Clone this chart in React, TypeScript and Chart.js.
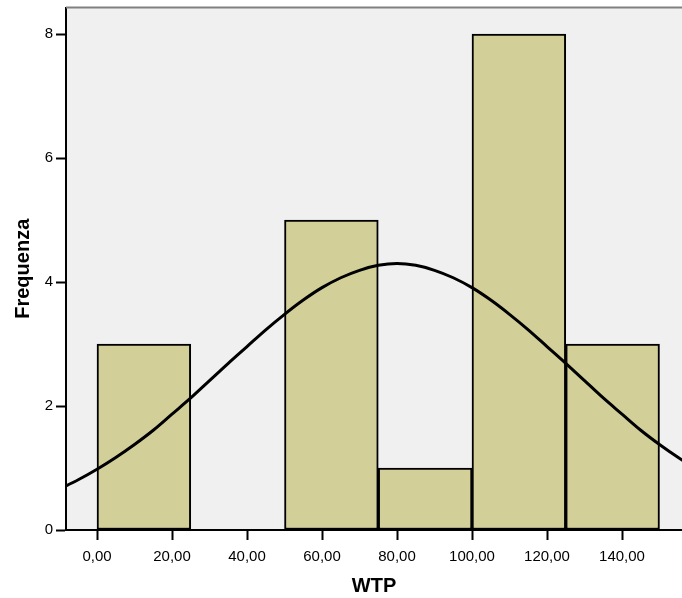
import React, { useEffect, useRef } from "react";
import { Chart, registerables } from "chart.js";

Chart.register(...registerables);

// Histogram bins (WTP), bin width 25
const binCenters = [12.5, 37.5, 62.5, 87.5, 112.5, 137.5];
const binCounts = [3, 0, 5, 1, 8, 3];

// Fitted normal curve
const curveX = [-10, -5, 0, 5, 10, 15, 20, 25, 30, 35, 40, 45, 50, 55, 60, 65, 70, 75, 80, 85, 90, 95, 100, 105, 110, 115, 120, 125, 130, 135, 140, 145, 150, 155, 160, 165];
const curveY = [0.66, 0.81, 0.98, 1.17, 1.38, 1.61, 1.87, 2.13, 2.41, 2.69, 2.96, 3.23, 3.48, 3.71, 3.91, 4.07, 4.19, 4.27, 4.3, 4.27, 4.19, 4.07, 3.91, 3.71, 3.48, 3.23, 2.96, 2.69, 2.41, 2.13, 1.87, 1.61, 1.38, 1.17, 0.98, 0.81];

const xTickValues = [0, 20, 40, 60, 80, 100, 120, 140];
const xTickLabels = ["0,00", "20,00", "40,00", "60,00", "80,00", "100,00", "120,00", "140,00"];
const yTickValues = [0, 2, 4, 6, 8];
const yTickLabels = ["0", "2", "4", "6", "8"];

const xTitle = "WTP";
const yTitle = "Frequenza";

const X_MIN = -8.27;
const X_MAX = 156;

const FONT = "'Liberation Sans', Arial, Helvetica, sans-serif";

const bgPlugin = {
  id: "plotBg",
  beforeDraw(chart: any) {
    const { ctx, chartArea: a } = chart;
    ctx.save();
    ctx.fillStyle = "#f0f0f0";
    ctx.fillRect(a.left, a.top, a.right - a.left, a.bottom - a.top);
    ctx.restore();
  },
  afterDraw(chart: any) {
    const { ctx, chartArea: a } = chart;
    ctx.save();
    ctx.strokeStyle = "#808080";
    ctx.lineWidth = 2;
    ctx.beginPath();
    ctx.moveTo(a.left, a.top);
    ctx.lineTo(a.right + 2, a.top);
    ctx.stroke();
    ctx.restore();
  },
};

const zeroPad = (s: any) => {
  s.paddingTop = 0;
  s.paddingBottom = 0;
  s.paddingLeft = 0;
  s.paddingRight = 0;
};

export default function App() {
  const ref = useRef<HTMLCanvasElement | null>(null);

  useEffect(() => {
    if (!ref.current) return;
    const chart = new Chart(ref.current, {
      type: "bar",
      data: {
        datasets: [
          {
            type: "line",
            xAxisID: "x",
            data: curveX.map((x, i) => ({ x, y: curveY[i] })),
            borderColor: "#000000",
            borderWidth: 3,
            pointRadius: 0,
            cubicInterpolationMode: "monotone",
            fill: false,
            order: 0,
          } as any,
          {
            type: "bar",
            xAxisID: "xb",
            data: binCenters.map((x, i) => ({ x, y: binCounts[i] })),
            backgroundColor: "#d3cf98",
            borderColor: "#000000",
            borderWidth: 2,
            borderSkipped: false,
            grouped: false,
            barPercentage: 1,
            categoryPercentage: 1,
            order: 1,
          } as any,
        ],
      },
      options: {
        animation: false,
        responsive: false,
        devicePixelRatio: 1,
        layout: { padding: { top: 7.5, left: 0, right: 0, bottom: 0 } },
        plugins: { legend: { display: false }, tooltip: { enabled: false } },
        scales: {
          xb: {
            type: "linear",
            display: false,
            position: "bottom",
            min: X_MIN,
            max: X_MAX,
            offset: false,
            afterBuildTicks: (s: any) => {
              s.ticks = [];
            },
          },
          x: {
            type: "linear",
            position: "bottom",
            min: X_MIN,
            max: X_MAX,
            offset: false,
            afterBuildTicks: (s: any) => {
              s.ticks = xTickValues.map((v) => ({ value: v }));
            },
            afterFit: (s: any) => {
              s.height = 68;
              zeroPad(s);
            },
            ticks: {
              autoSkip: false,
              maxRotation: 0,
              padding: 8,
              color: "#000000",
              font: { family: FONT, size: 15 },
              callback: (v: any) => {
                const i = xTickValues.indexOf(Number(v));
                return i >= 0 ? xTickLabels[i] : "";
              },
            },
            grid: {
              offset: false,
              drawOnChartArea: false,
              drawTicks: true,
              tickLength: 10,
              tickWidth: 2,
              tickColor: "#000000",
            },
            border: { display: true, color: "#000000", width: 2 },
            title: {
              display: true,
              text: xTitle,
              color: "#000000",
              font: { family: FONT, size: 20, weight: "bold" },
              padding: { top: 0, bottom: 0 },
            },
          },
          y: {
            type: "linear",
            min: 0,
            max: 8.43,
            afterBuildTicks: (s: any) => {
              s.ticks = yTickValues.map((v) => ({ value: v }));
            },
            afterFit: (s: any) => {
              s.width = 66;
              zeroPad(s);
            },
            ticks: {
              padding: 3,
              color: "#000000",
              font: { family: FONT, size: 15 },
              callback: (v: any) => {
                const i = yTickValues.indexOf(Number(v));
                return i >= 0 ? yTickLabels[i] : "";
              },
            },
            grid: {
              offset: false,
              drawOnChartArea: false,
              drawTicks: true,
              tickLength: 10,
              tickWidth: 2,
              tickColor: "#000000",
            },
            border: { display: true, color: "#000000", width: 2 },
            title: {
              display: true,
              text: yTitle,
              color: "#000000",
              font: { family: FONT, size: 20, weight: "bold" },
              padding: { top: 11, bottom: 0 },
            },
          },
        },
      },
      plugins: [bgPlugin],
    } as any);
    return () => chart.destroy();
  }, []);

  return (
    <div style={{ position: "absolute", left: 0, top: 0, width: 682, height: 598, background: "#ffffff" }}>
      <canvas ref={ref} width={682} height={598} style={{ display: "block" }} />
    </div>
  );
}
